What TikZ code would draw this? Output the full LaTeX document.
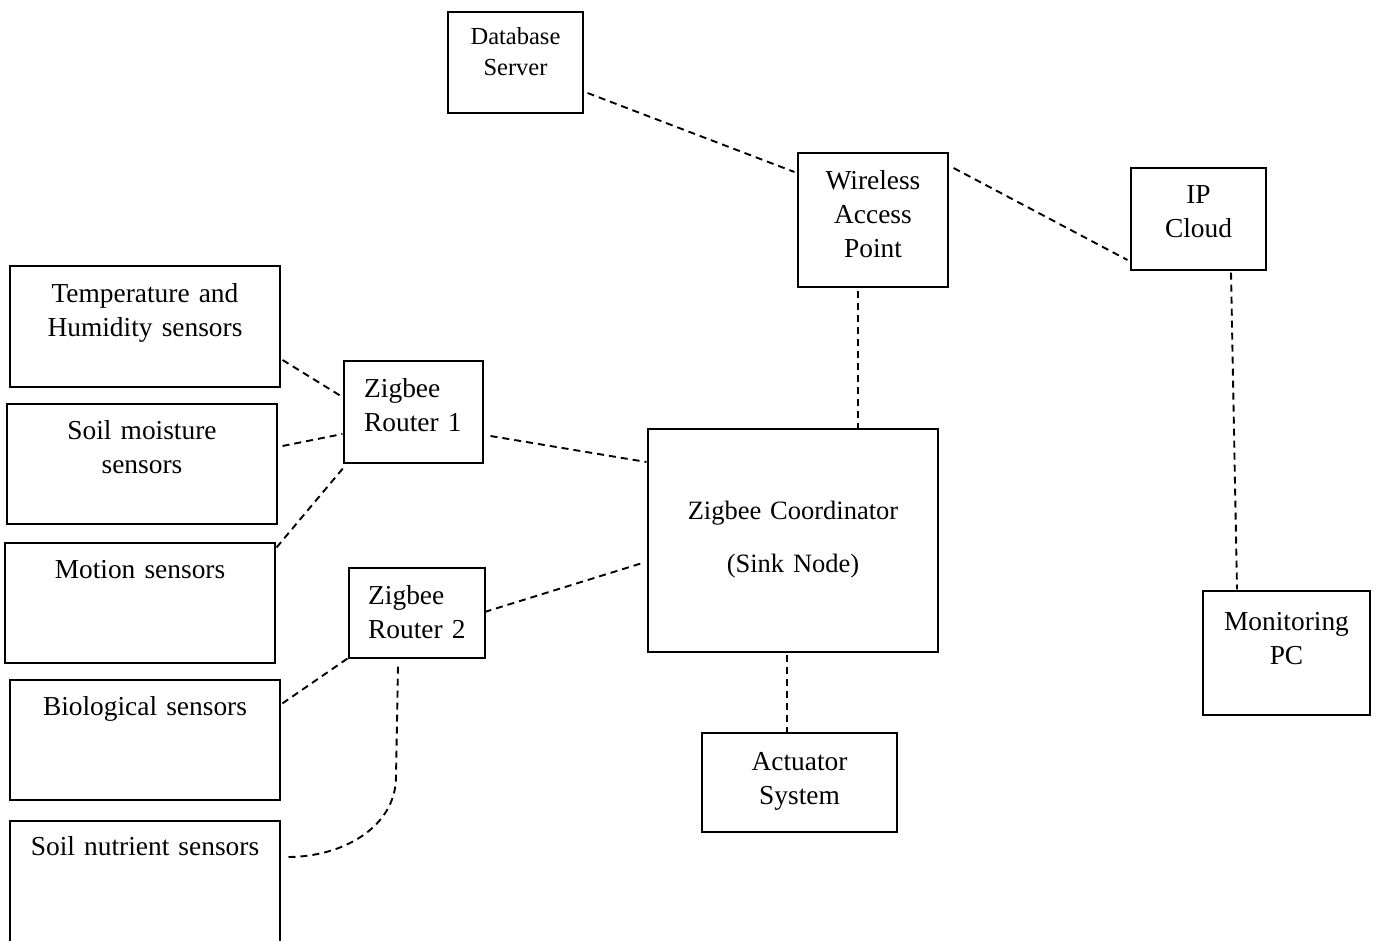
\documentclass[tikz,border=0pt]{standalone}
\usepackage{fontspec}
\setmainfont{Liberation Serif}
\usetikzlibrary{calc}
\begin{document}
\begin{tikzpicture}[x=1pt,y=-1pt,
  box/.style={draw, line width=1.1pt, inner sep=0pt, fill=none},
  lbl/.style={anchor=base, align=center, inner sep=0pt, text width=260pt,
    font=\fontsize{27.4}{34}\selectfont},
  lbll/.style={anchor=base west, align=left, inner sep=0pt, text width=120pt,
    font=\fontsize{27.4}{34}\selectfont},
  link/.style={line width=1.9pt, dash pattern=on 7pt off 5pt}]
\useasboundingbox (0,0) rectangle (1378,940);

% boxes
\node[box, minimum width=135pt, minimum height=101pt] (db) at (515.5,62.5) {};
\node[box, minimum width=150pt, minimum height=134pt] (wap) at (873,220) {};
\node[box, minimum width=135pt, minimum height=102pt] (ip) at (1198.5,219) {};
\node[box, minimum width=270pt, minimum height=121pt] (temp) at (145,326.5) {};
\node[box, minimum width=270pt, minimum height=120pt] (soil) at (142,464) {};
\node[box, minimum width=270pt, minimum height=120pt] (motion) at (140,603) {};
\node[box, minimum width=270pt, minimum height=120pt] (bio) at (145,740) {};
\node[box, minimum width=270pt, minimum height=124pt] (nutr) at (145,883) {};
\node[box, minimum width=139pt, minimum height=102pt] (r1) at (413.5,412) {};
\node[box, minimum width=136pt, minimum height=90pt] (r2) at (417,613) {};
\node[box, minimum width=290pt, minimum height=223pt] (coord) at (793,540.5) {};
\node[box, minimum width=195pt, minimum height=99pt] (act) at (799.5,782.5) {};
\node[box, minimum width=167pt, minimum height=124pt] (pc) at (1286.5,653) {};

% labels
\node[lbl, font=\fontsize{24.5}{31}\selectfont] (db-t) at (515.5,44) {Database\\Server};
\node[lbl] (wap-t) at (873,189) {Wireless\\Access\\Point};
\node[lbl] (ip-t) at (1198.5,203) {IP\\Cloud};
\node[lbl] (temp-t) at (145,302) {Temperature and\\Humidity sensors};
\node[lbl] (soil-t) at (142,439) {Soil moisture\\sensors};
\node[lbl] (motion-t) at (140,578) {Motion sensors};
\node[lbl] (bio-t) at (145,715) {Biological sensors};
\node[lbl] (nutr-t) at (145,855) {Soil nutrient sensors};
\node[lbll] (r1-t) at (364,397) {Zigbee\\Router 1};
\node[lbll] (r2-t) at (368,604) {Zigbee\\Router 2};
\node[lbl, font=\fontsize{26.5}{53}\selectfont] (coord-t) at (793,519) {Zigbee Coordinator\\(Sink Node)};
\node[lbl] (act-t) at (799.5,770) {Actuator\\System};
\node[lbl] (pc-t) at (1286.5,630) {Monitoring\\PC};

% connectors
\draw[link] ([xshift=4pt,yshift=-30.5pt]db.east) -- ([xshift=-3pt,yshift=48pt]wap.west);
\draw[link] ([xshift=5pt,yshift=52pt]wap.east) -- ([xshift=-3pt,yshift=-41pt]ip.west);
\draw[link] ([xshift=-15pt,yshift=-3pt]wap.south) -- ([xshift=-15pt]wap.south |- coord.north);
\draw[link] ([xshift=32.5pt,yshift=-2pt]ip.south) -- ([xshift=-49.5pt,yshift=1pt]pc.north);
\draw[link] ([xshift=2pt,yshift=-33.5pt]temp.east) -- ([xshift=-1pt,yshift=15pt]r1.west);
\draw[link] ([xshift=5pt,yshift=18pt]soil.east) -- ([xshift=-1pt,yshift=-22pt]r1.west);
\draw[link] ([xshift=1pt,yshift=-5pt]motion.north east) -- ([xshift=1pt,yshift=-3pt]r1.south west);
\draw[link] ([xshift=7pt,yshift=-24pt]r1.east) -- ([xshift=-1pt,yshift=78.5pt]coord.west);
\draw[link] ([xshift=-1pt,yshift=1pt]r2.east) -- ([xshift=-5pt,yshift=-22.5pt]coord.west);
\draw[link] ([xshift=-1pt]r2.south west) -- ([xshift=1pt,yshift=36pt]bio.east);
\draw[link] ([xshift=-19pt,yshift=-8pt]r2.south) -- ++(-2,110)
  .. controls +(0,50) and +(56,0) .. ([xshift=7pt,yshift=26pt]nutr.east);
\draw[link] ([xshift=-6pt,yshift=-2pt]coord.south) -- ([xshift=-6pt]coord.south |- act.north);
\end{tikzpicture}
\end{document}
